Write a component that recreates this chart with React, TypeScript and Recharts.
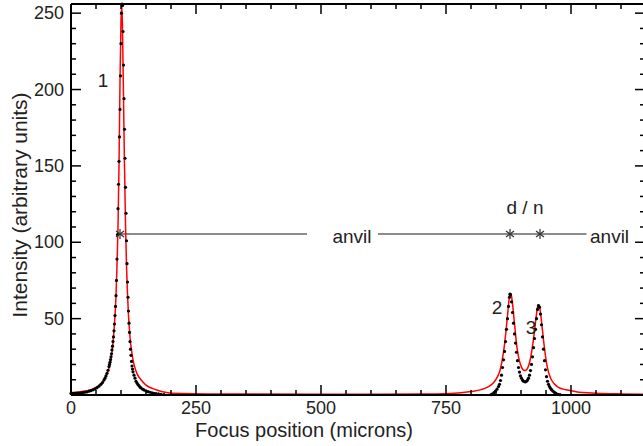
import { ComposedChart, Line, Scatter, XAxis, YAxis, ReferenceLine } from 'recharts';

// measured intensity (black dots), peak 1
const dotsPeak1: [number, number][] = [
  [0, 1.0], [4, 1.0], [8, 1.1], [12, 1.2], [16, 1.3], [20, 1.4], [24, 1.6], [28, 1.8],
  [32, 2.1], [36, 2.5], [40, 2.9], [44, 3.4], [48, 4.0], [52, 4.8], [56, 5.8], [60, 7.0],
  [63, 8.2], [66, 9.8], [68, 11.0], [70, 12.5], [72, 14.2], [74, 16.2], [76, 18.6], [77, 20],
  [78, 21.5], [79, 23.2], [80, 25], [81, 27], [82, 29.5], [83, 32], [84, 35], [85, 38],
  [86, 42], [87, 46.5], [88, 52], [89, 58], [90, 65], [91, 75], [92, 89], [93, 105],
  [94, 122], [95, 138], [96, 153], [97, 169], [98, 187], [99, 209], [100, 230], [101, 250],
  [102, 256], [103, 255], [104, 238], [105, 216], [106, 194], [107, 174], [108, 155], [109, 136],
  [110, 119], [111, 101], [112, 86], [113, 74], [114, 64], [115, 55], [116, 47], [117, 41],
  [118, 35], [119, 30], [120, 26], [121, 22], [122, 19], [123, 17], [124, 15.2], [126, 13],
  [128, 11], [130, 9], [132, 7.8], [134, 6.8], [136, 6], [138, 5.2], [140, 4.6], [143, 3.9],
  [146, 3.3], [150, 2.7], [154, 2.2], [158, 1.8], [162, 1.4], [166, 1.1], [170, 0.9], [175, 0.7],
  [180, 0.5], [186, 0.3],
];

// measured intensity (black dots), peaks 2 and 3
const dotsPeak23: [number, number][] = [
  [840, 0.3], [843, 0.8], [846, 1.5], [849, 2.5], [852, 3.8], [855, 5.5], [857, 7], [859, 9.5],
  [861, 13], [863, 18], [865, 23], [867, 28.5], [869, 35], [871, 43], [873, 50], [875, 58],
  [877, 64], [878, 66], [879, 65.5], [881, 61], [883, 54], [885, 47], [887, 40], [889, 34],
  [891, 28], [893, 22.5], [895, 18], [897, 15], [899, 12.5], [901, 11], [903, 9.8], [905, 9],
  [907, 8.7], [909, 8.6], [911, 9], [913, 9.8], [915, 11], [917, 13], [919, 16], [921, 20],
  [923, 25], [925, 31], [927, 37], [929, 43], [931, 50], [933, 56], [935, 58.5], [937, 57.5],
  [939, 53], [941, 46], [943, 38], [945, 30], [947, 22.5], [949, 16.5], [951, 12], [953, 9],
  [955, 7], [957, 5.5], [959, 4.4], [961, 3.5], [964, 2.5], [967, 1.7], [970, 1.0], [974, 0.5],
  [978, 0.2],
];

// fitted curve (red)
const fitCurve: [number, number][] = [
  [0, 1.5], [20, 2.2], [40, 3.5], [55, 6], [65, 9.5], [72, 14], [78, 20], [82, 28],
  [85, 38], [88, 52], [90, 65], [92, 85], [94, 110], [96, 150], [98, 205], [100, 245],
  [101.5, 255], [103, 240], [105, 195], [107, 150], [109, 112], [111, 85], [113, 66], [115, 52],
  [118, 38], [122, 27], [126, 20], [132, 14], [140, 10], [150, 6.5], [165, 4], [185, 2],
  [200, 1.2], [300, 0.7], [500, 0.5], [700, 0.6], [760, 1], [800, 2.3], [820, 3.5], [835, 5.5],
  [845, 8], [853, 12], [858, 16], [863, 24], [867, 33], [870, 42], [873, 52], [876, 62],
  [878, 66.5], [880, 66], [883, 60], [886, 50], [889, 40], [892, 31], [895, 25], [899, 20],
  [903, 17], [907, 16], [911, 16.5], [915, 19], [919, 24], [923, 32], [927, 42], [931, 53],
  [934, 59], [936, 58.5], [939, 54], [942, 45], [945, 36], [948, 28], [951, 21], [955, 15],
  [960, 10.5], [966, 7.5], [975, 5], [990, 3.4], [1010, 2.2], [1050, 1.2], [1100, 0.7], [1148, 0.5],
];

const X_TICKS = [0, 50, 100, 150, 200, 250, 300, 350, 400, 450, 500, 550, 600, 650, 700, 750, 800, 850, 900, 950, 1000, 1050, 1100];
const X_LABELS = [0, 250, 500, 750, 1000];
const Y_TICKS = [10, 20, 30, 40, 50, 60, 70, 80, 90, 100, 110, 120, 130, 140, 150, 160, 170, 180, 190, 200, 210, 220, 230, 240, 250];
const Y_LABELS = [50, 100, 150, 200, 250];

const X_MAX = 1148;
const Y_MAX = 256;

// anvil / diamond markers and text notes
const markers = [{ x: 98, y: 105.4 }, { x: 878, y: 105.4 }, { x: 938, y: 105.4 }];
const notes = [
  { x: 64, y: 206, text: '1', anchor: 'middle' },
  { x: 852, y: 57, text: '2', anchor: 'middle' },
  { x: 920, y: 44, text: '3', anchor: 'middle' },
  { x: 908, y: 123, text: 'd / n', anchor: 'middle' },
  { x: 562, y: 104, text: 'anvil', anchor: 'middle' },
  { x: 1038, y: 104, text: 'anvil', anchor: 'start' },
];

const FONT = 'Liberation Sans, Arial, Helvetica, sans-serif';
const TEXT = '#222';

// chart box: plot area spans these pixels (same numbers as the margins / axis sizes below)
const W = 660;
const H = 446;
const PLOT = { left: 71, right: 645, top: 4, bottom: 395 };
const px = (v: number) => PLOT.left + (v / X_MAX) * (PLOT.right - PLOT.left);
const py = (v: number) => PLOT.bottom - (v / Y_MAX) * (PLOT.bottom - PLOT.top);

const toPts = (arr: [number, number][]) => arr.map(([x, y]) => ({ x, y }));

function BottomLabel({ x, y, payload }: any) {
  if (!X_LABELS.includes(payload.value)) return <g />;
  return (
    <text x={x} y={y + 19} textAnchor="middle" fontSize={18} fill={TEXT} fontFamily={FONT}>
      {payload.value}
    </text>
  );
}

function LeftLabel({ x, y, payload }: any) {
  if (!Y_LABELS.includes(payload.value)) return <g />;
  return (
    <text x={x - 7} y={y + 6} textAnchor="end" fontSize={18} fill={TEXT} fontFamily={FONT}>
      {payload.value}
    </text>
  );
}

const Dot = ({ cx, cy }: any) => <circle cx={cx} cy={cy} r={1.6} fill="#000" />;

const Star = ({ cx, cy }: any) => (
  <g stroke="#333" strokeWidth={1.2}>
    <line x1={cx} x2={cx} y1={cy - 5} y2={cy + 5} />
    <line x1={cx - 4} x2={cx + 4} y1={cy - 3} y2={cy + 3} />
    <line x1={cx - 4} x2={cx + 4} y1={cy + 3} y2={cy - 3} />
  </g>
);

const Note = ({ cx, cy, payload }: any) => (
  <text x={cx} y={cy} textAnchor={payload.anchor} dominantBaseline="central" fontSize={19} fill={TEXT} fontFamily={FONT}>
    {payload.text}
  </text>
);

// box frame with inward ticks on all four sides
function Frame() {
  return (
    <svg width={W} height={H} style={{ position: 'absolute', left: 0, top: 0, pointerEvents: 'none' }}>
      <g stroke="#000" strokeWidth={1.5}>
        <line x1={PLOT.left} x2={PLOT.right} y1={PLOT.top} y2={PLOT.top} strokeWidth={2} />
        <line x1={PLOT.right} x2={PLOT.right} y1={PLOT.top} y2={PLOT.bottom} strokeWidth={2} />
        {X_TICKS.map((v) => {
          const len = X_LABELS.includes(v) ? 10 : 5;
          return (
            <g key={`x${v}`}>
              <line x1={px(v)} x2={px(v)} y1={PLOT.bottom} y2={PLOT.bottom - len} />
              <line x1={px(v)} x2={px(v)} y1={PLOT.top} y2={PLOT.top + len} />
            </g>
          );
        })}
        {Y_TICKS.map((v) => {
          const len = Y_LABELS.includes(v) ? 10 : 5;
          return (
            <g key={`y${v}`}>
              <line x1={PLOT.left} x2={PLOT.left + len} y1={py(v)} y2={py(v)} />
              <line x1={PLOT.right} x2={PLOT.right - len} y1={py(v)} y2={py(v)} />
            </g>
          );
        })}
      </g>
    </svg>
  );
}

export default function App() {
  return (
    <div style={{ position: 'absolute', left: 0, top: 0, width: 643, height: 446, overflow: 'hidden', background: '#fff' }}>
      <ComposedChart
        width={W}
        height={H}
        margin={{ top: PLOT.top, right: W - PLOT.right, bottom: 0, left: 0 }}
      >
        <XAxis
          dataKey="x"
          type="number"
          domain={[0, X_MAX]}
          ticks={X_TICKS}
          interval={0}
          tickSize={0}
          tickMargin={0}
          tickLine={false}
          height={H - PLOT.bottom}
          axisLine={{ stroke: '#000', strokeWidth: 2 }}
          tick={<BottomLabel />}
          label={{
            content: () => (
              <text x={304} y={437} textAnchor="middle" fontSize={20} fill={TEXT} fontFamily={FONT}>
                Focus position (microns)
              </text>
            ),
          }}
        />
        <YAxis
          dataKey="y"
          type="number"
          domain={[0, Y_MAX]}
          ticks={Y_TICKS}
          interval={0}
          tickSize={0}
          tickMargin={0}
          tickLine={false}
          width={PLOT.left}
          axisLine={{ stroke: '#000', strokeWidth: 2 }}
          tick={<LeftLabel />}
          label={{
            content: () => (
              <text
                x={19}
                y={205}
                transform="rotate(-90 19 205)"
                textAnchor="middle"
                dominantBaseline="central"
                fontSize={21}
                fill={TEXT}
                fontFamily={FONT}
              >
                Intensity (arbitrary units)
              </text>
            ),
          }}
        />
        <ReferenceLine segment={[{ x: 92, y: 105.4 }, { x: 472, y: 105.4 }]} stroke="#666" strokeWidth={1.3} ifOverflow="visible" />
        <ReferenceLine segment={[{ x: 614, y: 105.4 }, { x: 1031, y: 105.4 }]} stroke="#666" strokeWidth={1.3} ifOverflow="visible" />
        <Line
          data={toPts(fitCurve)}
          dataKey="y"
          type="monotone"
          stroke="#ff0000"
          strokeWidth={1.5}
          dot={false}
          activeDot={false}
          isAnimationActive={false}
        />
        <Scatter data={toPts(dotsPeak1)} dataKey="y" shape={<Dot />} isAnimationActive={false} />
        <Scatter data={toPts(dotsPeak23)} dataKey="y" shape={<Dot />} isAnimationActive={false} />
        <Scatter data={markers} dataKey="y" shape={<Star />} isAnimationActive={false} />
        <Scatter data={notes} dataKey="y" shape={<Note />} isAnimationActive={false} />
      </ComposedChart>
      <Frame />
    </div>
  );
}
